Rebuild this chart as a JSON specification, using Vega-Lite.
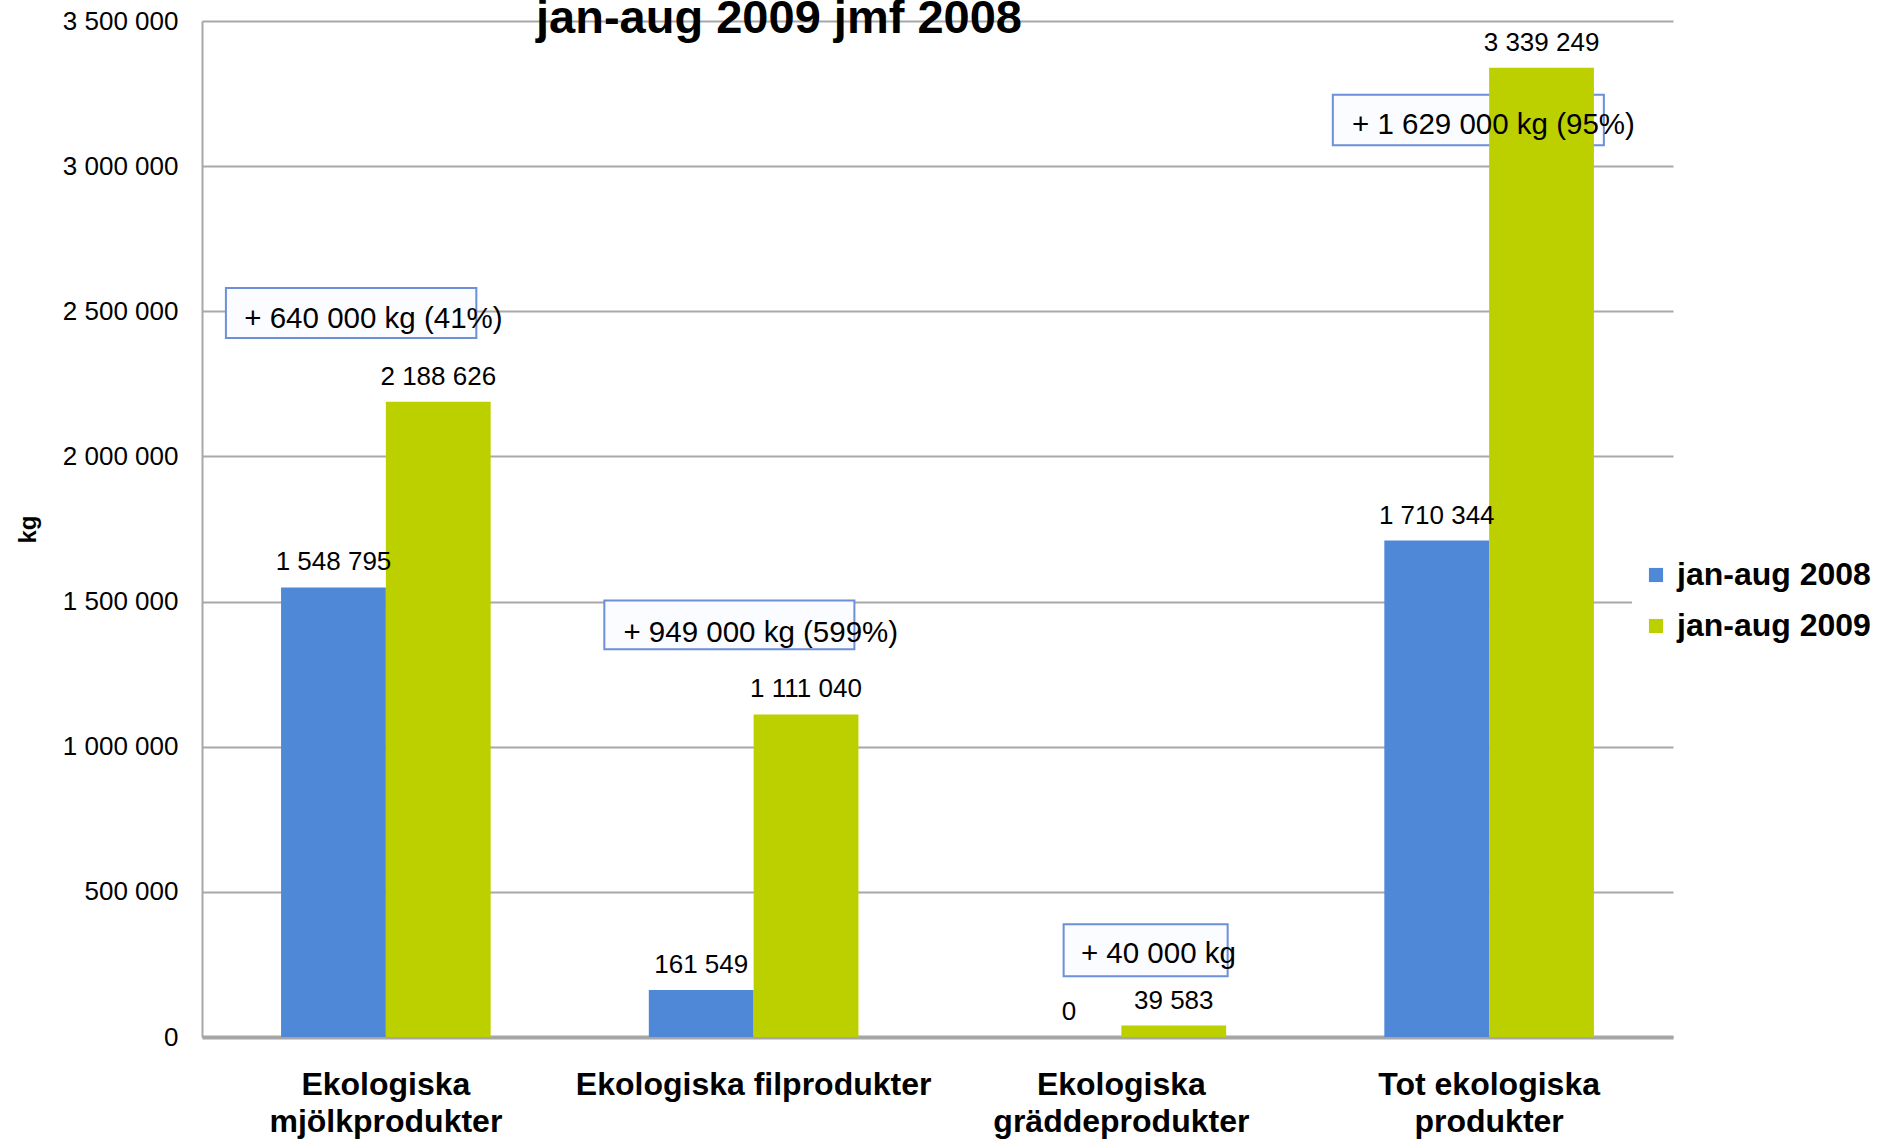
{
  "$schema": "https://vega.github.io/schema/vega-lite/v6.json",
  "width": 1471,
  "height": 1016,
  "autosize": {"type": "none"},
  "padding": {"left": 202, "top": 21, "right": 217, "bottom": 105},
  "background": "white",
  "title": {
    "text": "jan-aug 2009 jmf 2008",
    "anchor": "start",
    "frame": "group",
    "align": "center",
    "dx": 577,
    "dy": 72,
    "offset": 0,
    "baseline": "alphabetic",
    "fontSize": 47,
    "font": "Liberation Sans",
    "fontWeight": "bold",
    "color": "black"
  },
  "config": {
    "locale": {"number": {"decimal": ",", "thousands": " ", "grouping": [3], "currency": ["", ""]}},
    "view": {"stroke": null},
    "font": "Liberation Sans"
  },
  "datasets": {
    "bars": [
      {"category": "Ekologiska mjölkprodukter", "series": "jan-aug 2008", "value": 1548795},
      {"category": "Ekologiska mjölkprodukter", "series": "jan-aug 2009", "value": 2188626},
      {"category": "Ekologiska filprodukter", "series": "jan-aug 2008", "value": 161549},
      {"category": "Ekologiska filprodukter", "series": "jan-aug 2009", "value": 1111040},
      {"category": "Ekologiska gräddeprodukter", "series": "jan-aug 2008", "value": 0},
      {"category": "Ekologiska gräddeprodukter", "series": "jan-aug 2009", "value": 39583},
      {"category": "Tot ekologiska produkter", "series": "jan-aug 2008", "value": 1710344},
      {"category": "Tot ekologiska produkter", "series": "jan-aug 2009", "value": 3339249}
    ],
    "boxes": [
      {"x1": 0.065, "x2": 0.746, "y1": 2408000, "y2": 2580000, "tx": 0.115, "ty": 2442000, "label": "+ 640 000 kg (41%)"},
      {"x1": 1.094, "x2": 1.774, "y1": 1336000, "y2": 1504000, "tx": 1.146, "ty": 1360000, "label": "+ 949 000 kg (599%)"},
      {"x1": 2.343, "x2": 2.789, "y1": 209000, "y2": 388000, "tx": 2.39, "ty": 254000, "label": "+ 40 000 kg"},
      {"x1": 3.075, "x2": 3.812, "y1": 3072000, "y2": 3246000, "tx": 3.127, "ty": 3111000, "label": "+ 1 629 000 kg (95%)"}
    ]
  },
  "layer": [
    {
      "data": {"name": "boxes"},
      "mark": {"type": "rect", "fill": "#fbfcff", "stroke": "#6b8fd8", "strokeWidth": 2},
      "encoding": {
        "x": {"field": "x1", "type": "quantitative", "scale": {"domain": [0, 4], "nice": false, "zero": false}, "axis": null},
        "x2": {"field": "x2"},
        "y": {"field": "y1", "type": "quantitative", "title": "kg", "scale": {"domain": [0, 3500000], "nice": false}},
        "y2": {"field": "y2"}
      }
    },
    {
      "data": {"name": "bars"},
      "encoding": {
        "x": {
          "field": "category",
          "type": "nominal",
          "sort": null,
          "scale": {"paddingInner": 0.43, "paddingOuter": 0.215},
          "axis": {
            "title": null,
            "domainColor": "#a6a6a6",
            "domainWidth": 4,
            "ticks": false,
            "labelFontSize": 32,
            "labelFontWeight": "bold",
            "labelColor": "black",
            "labelPadding": 32,
            "labelAngle": 0,
            "labelLineHeight": 37,
            "labelBaseline": "top",
            "labelLimit": 0,
            "labelExpr": "datum.value == 'Ekologiska filprodukter' ? datum.value : datum.value == 'Tot ekologiska produkter' ? ['Tot ekologiska', 'produkter'] : split(datum.value, ' ')"
          }
        },
        "xOffset": {"field": "series", "type": "nominal", "scale": {"paddingInner": 0, "paddingOuter": 0}},
        "y": {
          "field": "value",
          "type": "quantitative",
          "title": "kg",
          "scale": {"domain": [0, 3500000], "nice": false},
          "axis": {
            "title": "kg",
            "titleFontSize": 24,
            "titleFontWeight": "bold",
            "titleColor": "black",
            "titlePadding": 22,
            "grid": true,
            "gridColor": "#a8a8a8",
            "gridWidth": 2,
            "domainColor": "#a8a8a8",
            "domainWidth": 2,
            "ticks": false,
            "labelFontSize": 26,
            "labelColor": "black",
            "labelPadding": 24,
            "values": [0, 500000, 1000000, 1500000, 2000000, 2500000, 3000000, 3500000],
            "format": ",d"
          }
        }
      },
      "layer": [
        {
          "mark": {"type": "bar"},
          "encoding": {
            "color": {
              "field": "series",
              "type": "nominal",
              "scale": {"domain": ["jan-aug 2008", "jan-aug 2009"], "range": ["#5088d8", "#bcd000"]},
              "legend": {
                "orient": "none",
                "legendX": 1430,
                "legendY": 530,
                "title": null,
                "symbolType": "square",
                "symbolSize": 200,
                "symbolStrokeWidth": 0,
                "labelFontSize": 32,
                "labelFontWeight": "bold",
                "labelColor": "black",
                "labelOffset": 5,
                "labelLimit": 0,
                "fillColor": "white",
                "padding": 8,
                "rowPadding": 19
              }
            }
          }
        },
        {
          "mark": {"type": "text", "baseline": "alphabetic", "dy": -17, "fontSize": 26, "color": "black"},
          "encoding": {
            "text": {"field": "value", "type": "quantitative", "format": ",d"}
          }
        }
      ]
    },
    {
      "data": {"name": "boxes"},
      "mark": {"type": "text", "align": "left", "baseline": "alphabetic", "fontSize": 29.5, "color": "black"},
      "encoding": {
        "x": {"field": "tx", "type": "quantitative", "scale": {"domain": [0, 4], "nice": false, "zero": false}, "axis": null},
        "y": {"field": "ty", "type": "quantitative", "title": "kg", "scale": {"domain": [0, 3500000], "nice": false}},
        "text": {"field": "label"}
      }
    }
  ],
  "resolve": {"scale": {"x": "independent"}}
}
